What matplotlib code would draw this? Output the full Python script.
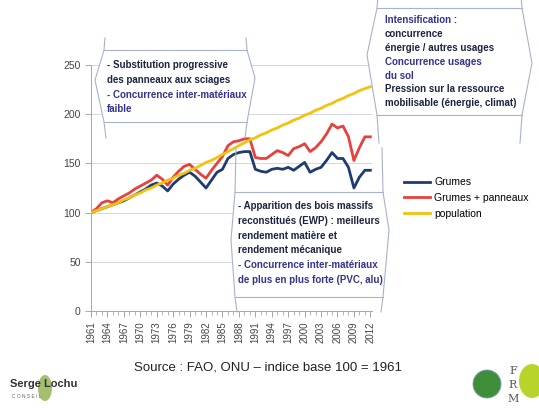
import matplotlib
matplotlib.use("Agg")
import matplotlib.pyplot as plt
import numpy as np
from matplotlib import font_manager
from matplotlib.lines import Line2D
from matplotlib.patches import Polygon, Ellipse

# data (indice base 100 = 1961)
years = np.arange(1961, 2013)
grumes = [100, 102, 104, 106, 108, 110, 112, 115, 118, 121,
          124, 128, 130, 127, 122, 129, 134, 138, 141, 137,
          131, 125, 133, 141, 144, 155, 159, 161, 162, 162,
          144, 142, 141, 144, 145, 144, 146, 143, 147, 151,
          141, 144, 146, 153, 161, 155, 155, 146, 125, 136,
          143, 143]
grumes_panneaux = [100, 104, 110, 112, 110, 114, 117, 120, 124, 127,
                   130, 133, 138, 134, 128, 136, 142, 147, 149, 144,
                   139, 135, 143, 150, 157, 168, 172, 173, 175, 175,
                   156, 155, 155, 159, 163, 161, 158, 165, 167, 170,
                   162, 166, 172, 180, 190, 186, 188, 177, 153, 166,
                   177, 177]
population = [100, 102, 104, 106, 108, 110, 113, 115, 118, 120,
              123, 125, 128, 130, 133, 135, 138, 140, 143, 145,
              148, 151, 153, 156, 159, 162, 165, 168, 171, 174,
              176, 179, 181, 184, 186, 189, 191, 194, 196, 199,
              201, 204, 206, 209, 211, 214, 216, 219, 221, 224,
              226, 228]
series_labels = ["Grumes", "Grumes + panneaux", "population"]
y_ticks = [0, 50, 100, 150, 200, 250]
x_tick_years = list(range(1961, 2013, 3))

W, H = 539, 408
names = {f.name for f in font_manager.fontManager.ttflist}
narrow = "Liberation Sans Narrow" if "Liberation Sans Narrow" in names else "Liberation Sans"
plt.rcParams["font.family"] = [narrow, "DejaVu Sans"]


def fx(x):
    return x / W


def fy(y):
    return 1 - y / H


fig = plt.figure(figsize=(W / 100, H / 100), dpi=100, facecolor="white")
ax = fig.add_axes([fx(91), fy(311), fx(372) - fx(91), fy(65) - fy(311)])

ax.plot(years, grumes, color="#1f3b73", lw=2.0, label=series_labels[0], zorder=3)
ax.plot(years, grumes_panneaux, color="#e8413b", lw=2.0, label=series_labels[1], zorder=3)
ax.plot(years, population, color="#f4c20d", lw=2.0, label=series_labels[2], zorder=4)

ax.set_xlim(1961, 2012.3)
ax.set_ylim(0, 250)
ax.set_yticks(y_ticks)
ax.set_xticks(x_tick_years)
ax.set_xticks(years, minor=True)
ax.tick_params(axis="x", rotation=90, labelsize=7, colors="#444444", length=4, width=0.6)
ax.tick_params(axis="x", which="minor", length=3, width=0.5, color="#999999")
ax.tick_params(axis="y", labelsize=7.5, colors="#444444", length=4, width=0.6)
ax.tick_params(axis="both", color="#999999")
ax.grid(axis="y", color="#d4d8de", lw=0.7)
ax.set_axisbelow(True)
for s in ["top", "right"]:
    ax.spines[s].set_visible(False)
for s in ["left", "bottom"]:
    ax.spines[s].set_color("#a0a8b8")
    ax.spines[s].set_linewidth(0.7)

fig.legend(loc="upper left", bbox_to_anchor=(fx(400), fy(173)), frameon=False,
           fontsize=7.5, handlelength=2.5, handletextpad=0.4, labelspacing=0.55,
           borderaxespad=0)

edge = "#a7b2cc"


def callout(left, right, top, bottom, lpt, rpt, ext_top, ext_bot):
    # white bracket-like callout shape
    poly = [(left, top), (right, top), (rpt[0], rpt[1]), (right, bottom),
            (left, bottom), (lpt[0], lpt[1])]
    fig.add_artist(Polygon([(fx(a), fy(b)) for a, b in poly], closed=True,
                           facecolor="white", edgecolor="none", zorder=5,
                           transform=fig.transFigure))
    for xs, ys in [([left, right], [top, top]), ([left, right], [bottom, bottom]),
                   ([left + 1, left, lpt[0], left, left + 2], [ext_top, top, lpt[1], bottom, ext_bot]),
                   ([right - 1, right, rpt[0], right, right - 2], [ext_top, top, rpt[1], bottom, ext_bot])]:
        fig.add_artist(Line2D([fx(a) for a in xs], [fy(b) for b in ys], color=edge,
                              lw=0.8, zorder=6, transform=fig.transFigure))


callout(104, 247, 50, 122, (95, 80), (255, 78), 38, 138)
callout(235, 383, 192, 297, (231, 240), (389, 230), 148, 312)
callout(377, 522, 8, 115, (367, 55), (532, 63), -5, 143)

dark = "#1c2440"
blue = "#33338f"


def box_text(x, y0, lines, step=13.6, size=7):
    for i, (txt, col) in enumerate(lines):
        fig.text(fx(x), fy(y0 + i * step), txt, ha="left", va="center", fontsize=size,
                 fontweight="bold", color=col, zorder=7)


box_text(107, 65, [("- Substitution progressive", dark),
                   ("des panneaux aux sciages", dark),
                   ("- Concurrence inter-matériaux", blue),
                   ("faible", blue)], step=14.8)
box_text(238, 206, [("- Apparition des bois massifs", dark),
                    ("reconstitués (EWP) : meilleurs", dark),
                    ("rendement matière et", dark),
                    ("rendement mécanique", dark),
                    ("- Concurrence inter-matériaux", blue),
                    ("de plus en plus forte (PVC, alu)", blue)], step=14.8)
box_text(385, 20, [("Intensification :", blue),
                   ("concurrence", dark),
                   ("énergie / autres usages", dark),
                   ("Concurrence usages", blue),
                   ("du sol", blue),
                   ("Pression sur la ressource", dark),
                   ("mobilisable (énergie, climat)", dark)], step=13.9)

fig.text(fx(268), fy(367), "Source : FAO, ONU \u2013 indice base 100 = 1961", ha="center",
         va="center", fontsize=9.5, color="#222222")

# logos
fig.add_artist(Ellipse((fx(45), fy(388)), 14 / W, 26 / H, facecolor="#8fb04a",
                       edgecolor="none", alpha=0.8, transform=fig.transFigure))
fig.text(fx(10), fy(384), "Serge Lochu", ha="left", va="center", fontsize=8,
         fontweight="bold", color="#333333")
fig.text(fx(12), fy(396), "C O N S E I L", ha="left", va="center", fontsize=3.5,
         color="#666666")
fig.add_artist(Ellipse((fx(487), fy(384)), 28 / W, 28 / H, facecolor="#3f8f3a",
                       edgecolor="#7a9ab5", lw=0.6, transform=fig.transFigure))
for i, ch in enumerate("FRM"):
    fig.text(fx(513), fy(371 + i * 14), ch, ha="center", va="center", fontsize=8,
             family="DejaVu Serif", color="#555555")
fig.add_artist(Ellipse((fx(532), fy(381)), 26 / W, 34 / H, facecolor="#b8d42a",
                       edgecolor="none", transform=fig.transFigure))

fig.savefig("out.png", dpi=100, facecolor="white")
